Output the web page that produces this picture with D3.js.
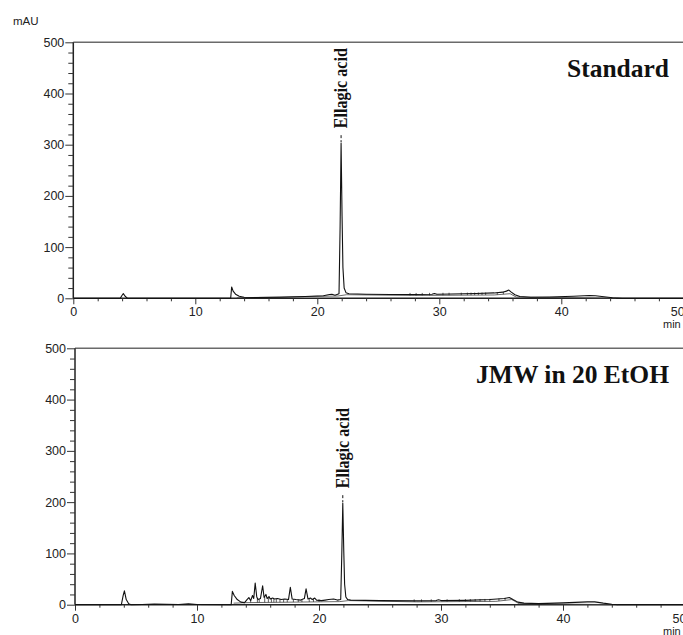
<!DOCTYPE html>
<html><head><meta charset="utf-8">
<script src="https://cdn.jsdelivr.net/npm/d3@7"></script>
<style>html,body{margin:0;padding:0;background:#fff;overflow:hidden}</style>
</head><body>
<svg id="c" width="683" height="635"></svg>
<script>
// ---------- data ----------
const yTicks = [0, 100, 200, 300, 400, 500];
const xTicks = [0, 10, 20, 30, 40, 50];
const yUnit = "mAU";
const xUnit = "min";
const panelTitles = ["Standard", "JMW in 20 EtOH"];
const peakLabel = "Ellagic acid";
const peakTimes = [21.95, 21.95];
const peakValues = [303, 198];

// Standard chromatogram
const stdTime = [0, 3.85, 4.0, 4.1, 4.25, 4.45, 12.9, 12.98, 13.1, 13.3, 13.6, 14.0, 15, 17, 19, 20.5, 21.0, 21.2, 21.45, 21.78, 21.87, 21.95, 22.03, 22.1, 22.2, 22.35, 22.6, 24, 26, 28, 29.4, 29.6, 29.8, 31, 33, 34.5, 35.2, 35.5, 35.7, 35.9, 36.2, 36.6, 37.5, 39, 41, 42.3, 42.8, 43.5, 44.2, 45, 50];
const stdValue = [0, 0, 6, 9, 4, 0, 0, 22, 14, 8, 4, 2, 1.5, 2, 3.5, 5, 7.5, 8, 6, 9, 140, 303, 160, 60, 20, 11, 9, 8, 7.5, 7.5, 8, 9.5, 8, 8.5, 9.5, 10.5, 12, 14, 16, 12, 7, 3.5, 2, 2.5, 4, 5.5, 5, 3, 1, 0, 0];
const stdBaseTime = [13.4, 21.7, 22.4, 28, 34.5, 35.8, 36.3, 44.5];
const stdBaseValue = [1, 4.5, 7, 5.5, 6.5, 9, 2.5, 0];
const stdDrops = [27.6, 28.1, 28.6, 29.2, 30.3, 30.8, 31.8, 32.3, 32.6, 32.9, 33.2, 33.5, 33.8, 34.75, 35.25];

// JMW in 20 EtOH chromatogram
const jmwTime = [0, 3.8, 3.95, 4.05, 4.2, 4.4, 4.6, 5.5, 6.5, 7.5, 8.5, 9.3, 10, 12.8, 12.9, 13.05, 13.3, 13.6, 13.9, 14.1, 14.25, 14.4, 14.55, 14.65, 14.77, 14.9, 15.0, 15.2, 15.38, 15.5, 15.65, 15.75, 15.9, 16.0, 16.2, 16.35, 16.6, 16.9, 17.2, 17.5, 17.65, 17.8, 18.1, 18.5, 18.8, 18.94, 19.1, 19.3, 19.45, 19.65, 19.8, 20.2, 20.5, 20.8, 21.2, 21.5, 21.78, 21.87, 21.95, 22.03, 22.1, 22.2, 22.35, 22.6, 25, 28, 29.6, 29.8, 30, 32, 34, 35.2, 35.6, 35.9, 36.3, 36.8, 38, 40, 42, 42.6, 43.3, 44, 44.5, 50];
const jmwValue = [0, 0, 18, 27, 10, 2, 0, 0.5, 1.5, 1, 0.5, 2, 0.5, 0, 26, 18, 10, 5, 4, 10, 14, 8, 18, 12, 42, 15, 10, 12, 37, 14, 20, 12, 16, 11, 13, 11, 12, 10, 11, 10, 34, 11, 10, 9, 12, 31, 11, 13, 10, 13, 9, 8, 9, 10, 11, 9, 10, 100, 198, 105, 40, 15, 10, 9, 8, 7.5, 8, 9.5, 8, 8.5, 10, 12, 14, 10, 5, 3, 2, 3.5, 5.5, 5.5, 3, 1, 0, 0];
const jmwBaseTime = [13.0, 14.0, 21.7, 22.4, 28, 34.5, 35.8, 36.4, 44.5];
const jmwBaseValue = [3, 4, 6, 8, 5.5, 6.5, 10, 2, 0];
const jmwDrops = [14.4, 14.95, 15.1, 15.55, 15.85, 16.1, 16.3, 16.5, 16.8, 17.1, 17.4, 17.9, 18.3, 18.6, 19.2, 19.55, 20.0, 27.8, 28.4, 29.2, 30.5, 31.5, 32.0, 32.4, 32.8, 33.2, 33.6, 34.0, 34.75, 35.25];

// ---------- drawing ----------
const svg = d3.select("#c");
const panels = [
  {time: stdTime, value: stdValue, bt: stdBaseTime, bv: stdBaseValue, drops: stdDrops,
   x0: 73.3, top: 42.3, bottom: 298.3, title: panelTitles[0], pt: peakTimes[0], pv: peakValues[0], unit: true},
  {time: jmwTime, value: jmwValue, bt: jmwBaseTime, bv: jmwBaseValue, drops: jmwDrops,
   x0: 75, top: 348.3, bottom: 604.7, title: panelTitles[1], pt: peakTimes[1], pv: peakValues[1], unit: false}
];
const pxPerMin = 12.2;
const sans = "'Liberation Sans', Arial, sans-serif";
const serif = "'Liberation Serif', 'Times New Roman', serif";

function interp(ts, vs, t) {
  if (t <= ts[0]) return vs[0];
  for (let i = 1; i < ts.length; i++) {
    if (t <= ts[i]) { const f = (t - ts[i-1]) / (ts[i] - ts[i-1]); return vs[i-1] + f * (vs[i] - vs[i-1]); }
  }
  return vs[vs.length - 1];
}

panels.forEach(p => {
  const x = d3.scaleLinear().domain([0, 50]).range([p.x0, p.x0 + 50 * pxPerMin]);
  const y = d3.scaleLinear().domain([0, 500]).range([p.bottom, p.top]);
  const g = svg.append("g");

  // top frame line
  g.append("line").attr("x1", p.x0).attr("x2", 690).attr("y1", p.top).attr("y2", p.top)
    .attr("stroke", "#6a6a6a").attr("stroke-width", 1.6);

  // y axis
  const ya = d3.axisLeft(y).tickValues(yTicks).tickSize(8).tickPadding(1).tickFormat(d3.format("d"));
  const yg = g.append("g").attr("transform", `translate(${p.x0},0)`).call(ya);
  const yMinor = d3.axisLeft(y).tickValues(d3.range(0, 501, 20).filter(v => v % 100 !== 0)).tickSize(5).tickFormat("");
  const ym = g.append("g").attr("transform", `translate(${p.x0},0)`).call(yMinor);
  ym.select(".domain").remove();

  // x axis
  const xa = d3.axisBottom(x).tickValues(xTicks).tickSize(6).tickPadding(3).tickFormat(d3.format("d"));
  const xg = g.append("g").attr("transform", `translate(0,${p.bottom})`).call(xa);
  const xMinor = d3.axisBottom(x).tickValues(d3.range(0, 51, 2).filter(v => v % 10 !== 0)).tickSize(3).tickFormat("");
  const xm = g.append("g").attr("transform", `translate(0,${p.bottom})`).call(xMinor);
  xm.select(".domain").remove();
  xg.selectAll(".tick").filter(d => d === 50).select("text").attr("dx", -6);

  [yg, ym, xg, xm].forEach(a => {
    a.select(".domain").attr("stroke", "#222").attr("stroke-width", 1.5);
    a.selectAll(".tick line").attr("stroke", "#333").attr("stroke-width", 1);
    a.selectAll("text").attr("font-family", sans).attr("font-size", 12.5).attr("fill", "#222");
  });
  yg.select(".domain").attr("d", `M0,${p.top}V${p.bottom}`);
  xg.select(".domain").attr("d", `M${p.x0},0H690`);

  // unit labels
  if (p.unit) {
    g.append("text").attr("x", 13).attr("y", 25).text(yUnit)
      .attr("font-family", sans).attr("font-size", 11.5).attr("fill", "#222");
  }
  g.append("text").attr("x", 663).attr("y", p.bottom + 30).text(xUnit)
    .attr("font-family", sans).attr("font-size", 11).attr("fill", "#222");

  // integration baseline
  const line = d3.line().x(d => x(d[0])).y(d => y(d[1]));
  g.append("path").datum(d3.zip(p.bt, p.bv)).attr("d", line)
    .attr("fill", "none").attr("stroke", "#444").attr("stroke-width", 0.8);

  // drop lines
  g.selectAll(".drop").data(p.drops).join("line")
    .attr("x1", d => x(d)).attr("x2", d => x(d))
    .attr("y1", d => y(interp(p.bt, p.bv, d)))
    .attr("y2", d => Math.min(y(interp(p.time, p.value, d)), y(interp(p.bt, p.bv, d)) - 2.5))
    .attr("stroke", "#333").attr("stroke-width", 0.8);

  // signal
  g.append("path").datum(d3.zip(p.time, p.value)).attr("d", line)
    .attr("fill", "none").attr("stroke", "#111").attr("stroke-width", 1.1).attr("stroke-linejoin", "round");

  // peak annotation
  const px = x(p.pt), py = y(p.pv);
  g.append("line").attr("x1", px).attr("x2", px).attr("y1", py - 8).attr("y2", py - 1)
    .attr("stroke", "#111").attr("stroke-width", 1).attr("stroke-dasharray", "3,2");
  g.append("text").attr("transform", `translate(${px + 6},${py - 15}) rotate(-90)`)
    .text(peakLabel).attr("font-family", serif).attr("font-weight", "bold")
    .attr("font-size", 18).attr("textLength", 80).attr("lengthAdjust", "spacingAndGlyphs")
    .attr("fill", "#111");

  // title
  g.append("text").attr("x", 669).attr("y", p.top + 35).attr("text-anchor", "end")
    .text(p.title).attr("font-family", serif).attr("font-weight", "bold")
    .attr("font-size", 25.5).attr("fill", "#111");
});
</script>
</body></html>
